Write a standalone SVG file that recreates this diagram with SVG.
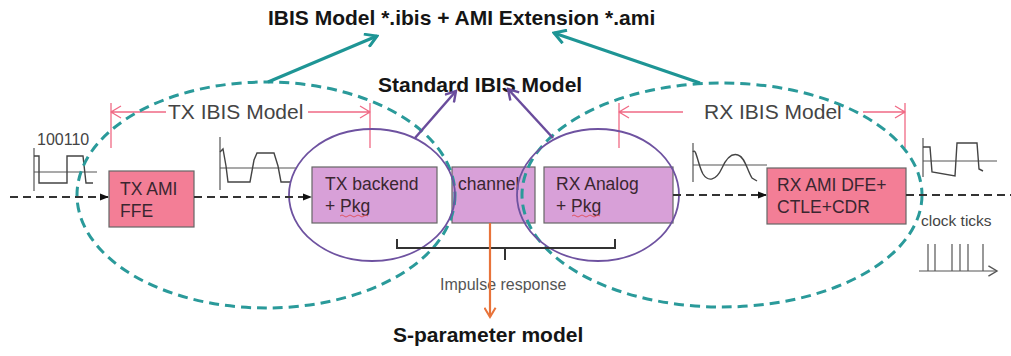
<svg xmlns="http://www.w3.org/2000/svg" width="1011" height="356" viewBox="0 0 1011 356">
  <style>
    text { font-family: "Liberation Sans", Arial, sans-serif; }
    .title { font-size: 21px; font-weight: bold; fill: #151515; }
    .dim-label { font-size: 21px; fill: #444; }
    .box-amp { fill: #F37E96; stroke: #666; stroke-width: 1.2; }
    .box-std { fill: #D8A0D8; stroke: #666; stroke-width: 1.2; }
    .box-text { font-size: 17.5px; fill: #3a2630; }
    .small { font-size: 16px; fill: #555; }
    .dim { stroke: #F06A85; stroke-width: 1.3; fill: none; }
    .sig { stroke: #333; stroke-width: 1.8; stroke-dasharray: 8 5; fill: none; }
    .wave { stroke: #444; stroke-width: 1.4; fill: none; }
    .axis { stroke: #555; stroke-width: 1.2; fill: none; }
    .scope { stroke: #2A9A9A; stroke-width: 3; stroke-dasharray: 10 6; fill: none; }
    .std { stroke: #6E52A0; stroke-width: 1.8; fill: none; }
    .squiggle { stroke: #E05565; stroke-width: 1; fill: none; }
  </style>
  <defs>
    <marker id="tri" viewBox="0 0 10 10" refX="9" refY="5" markerWidth="9" markerHeight="9" markerUnits="userSpaceOnUse" orient="auto">
      <path d="M0,1 L10,5 L0,9 Z" fill="#111"/>
    </marker>
    <marker id="vTeal" viewBox="0 0 14 14" refX="12" refY="7" markerWidth="16" markerHeight="16" markerUnits="userSpaceOnUse" orient="auto">
      <path d="M2,1 L12,7 L2,13" fill="none" stroke="#1E9595" stroke-width="2.6"/>
    </marker>
    <marker id="vPurple" viewBox="0 0 14 14" refX="12" refY="7" markerWidth="14" markerHeight="14" markerUnits="userSpaceOnUse" orient="auto">
      <path d="M2,1 L12,7 L2,13" fill="none" stroke="#6A4C9C" stroke-width="2.4"/>
    </marker>
    <marker id="vOrange" viewBox="0 0 14 14" refX="12" refY="7" markerWidth="13" markerHeight="13" markerUnits="userSpaceOnUse" orient="auto">
      <path d="M2,1 L12,7 L2,13" fill="none" stroke="#E8733A" stroke-width="2.2"/>
    </marker>
    <marker id="vGray" viewBox="0 0 14 14" refX="12" refY="7" markerWidth="12" markerHeight="12" markerUnits="userSpaceOnUse" orient="auto">
      <path d="M2,1 L12,7 L2,13" fill="none" stroke="#555" stroke-width="1.6"/>
    </marker>
  </defs>

  <rect width="1011" height="356" fill="#fff"/>

  <!-- headings -->
  <text class="title" x="268" y="25">IBIS Model *.ibis + AMI Extension *.ami</text>
  <text class="title" x="378" y="92">Standard IBIS Model</text>
  <text class="title" x="393" y="342">S-parameter model</text>

  <!-- TX / RX IBIS model dimension spans -->
  <g id="tx-span">
    <path class="dim" d="M111,103 V148 M370,103 V148 M111,112 H166 M308,112 H370 M121,106 L111,112 L121,118 M360,106 L370,112 L360,118"/>
    <text class="dim-label" x="168" y="119">TX IBIS Model</text>
  </g>
  <g id="rx-span">
    <path class="dim" d="M619,103 V148 M905,103 V148 M619,112 H683 M863,112 H905 M629,106 L619,112 L629,118 M895,106 L905,112 L895,118"/>
    <text class="dim-label" x="704" y="119">RX IBIS Model</text>
  </g>

  <!-- waveforms -->
  <g id="wave-in">
    <text x="37" y="145" style="font-size:16px;fill:#444">100110</text>
    <path class="axis" d="M34,148 V191 M34,172 H97"/>
    <path class="wave" d="M34,156 H39 V183 H67 V156 H83 L86,183 H93"/>
  </g>
  <g id="wave-tx">
    <path class="axis" d="M220,137 V190 M220,168 H297"/>
    <path class="wave" d="M220,152 L223,149 L226,166 L228,182 H250 L254,160 L257,153 H274 L278,166 L281,182 H290"/>
  </g>
  <g id="wave-rx">
    <path class="axis" d="M693,143 V182 M693,165 H767"/>
    <path class="wave" d="M693,152 C696,147 698,165 703,174 C708,182 716,181 722,168 C727,157 732,153 738,155 C745,157 747,170 752,178 L757,181"/>
  </g>
  <g id="wave-out">
    <path class="axis" d="M923,138 V177 M923,161 H997"/>
    <path class="wave" d="M923,147 H930 L932,172 L955,176 L957,143 H977 L979,169 L983,171"/>
  </g>
  <g id="clock">
    <text x="921" y="226" style="font-size:15.5px;fill:#444">clock ticks</text>
    <path class="axis" d="M919,271 H997" marker-end="url(#vGray)"/>
    <path class="axis" d="M928,244 V271 M935,244 V271 M952,244 V271 M960,244 V271 M968,244 V271 M983,244 V271"/>
  </g>

  <!-- blocks -->
  <g id="tx-ami">
    <rect class="box-amp" x="109" y="171" width="85" height="56"/>
    <text class="box-text" x="120" y="195">TX AMI</text>
    <text class="box-text" x="120" y="217">FFE</text>
  </g>
  <g id="tx-backend">
    <rect class="box-std" x="312" y="167" width="125" height="56"/>
    <text class="box-text" x="325" y="190">TX backend</text>
    <text class="box-text" x="325" y="212">+ Pkg</text>
    <path class="squiggle" d="M340,216 q2,-2 4,0 t4,0 t4,0 t4,0 t4,0 t4,0 t4,0"/>
  </g>
  <g id="channel">
    <rect class="box-std" x="452" y="167" width="83" height="56"/>
    <text class="box-text" x="458" y="190">channel</text>
  </g>
  <g id="rx-analog">
    <rect class="box-std" x="544" y="167" width="129" height="56"/>
    <text class="box-text" x="556" y="190">RX Analog</text>
    <text class="box-text" x="556" y="212">+ Pkg</text>
    <path class="squiggle" d="M572,216 q2,-2 4,0 t4,0 t4,0 t4,0 t4,0 t4,0 t4,0"/>
  </g>
  <g id="rx-ami">
    <rect class="box-amp" x="767" y="168" width="139" height="56"/>
    <text class="box-text" x="777" y="191">RX AMI DFE+</text>
    <text class="box-text" x="777" y="213">CTLE+CDR</text>
  </g>

  <!-- model boundaries -->
  <g id="tx-ibis-scope"><ellipse class="scope" cx="266" cy="195" rx="189" ry="113"/></g>
  <g id="rx-ibis-scope"><ellipse class="scope" cx="722" cy="195" rx="200" ry="112"/></g>
  <g id="tx-std-scope"><ellipse class="std" cx="372" cy="195" rx="83" ry="66"/></g>
  <g id="rx-std-scope"><ellipse class="std" cx="598" cy="195" rx="81" ry="66"/></g>

  <!-- impulse-response bracket -->
  <g id="impulse">
    <path d="M397,239 V248 H615 V239 M505,248 V260" fill="none" stroke="#333" stroke-width="2"/>
    <text class="small" x="440" y="290">Impulse response</text>
  </g>

  <!-- connectors -->
  <g id="connectors">
    <path class="sig" d="M10,197 H108" marker-end="url(#tri)"/>
    <path class="sig" d="M194,197 H311" marker-end="url(#tri)"/>
    <path class="sig" d="M673,195 H766" marker-end="url(#tri)"/>
    <path class="sig" d="M906,195 H1011"/>
    <path d="M268,82 L377,36" stroke="#1E9595" stroke-width="3" fill="none" marker-end="url(#vTeal)"/>
    <path d="M700,83 L554,33" stroke="#1E9595" stroke-width="3" fill="none" marker-end="url(#vTeal)"/>
    <path d="M415,138 L456,91" stroke="#6A4C9C" stroke-width="2.5" fill="none" marker-end="url(#vPurple)"/>
    <path d="M553,138 L508,89" stroke="#6A4C9C" stroke-width="2.5" fill="none" marker-end="url(#vPurple)"/>
    <path d="M490,223 V317" stroke="#E8733A" stroke-width="2.2" fill="none" marker-end="url(#vOrange)"/>
  </g>
</svg>
